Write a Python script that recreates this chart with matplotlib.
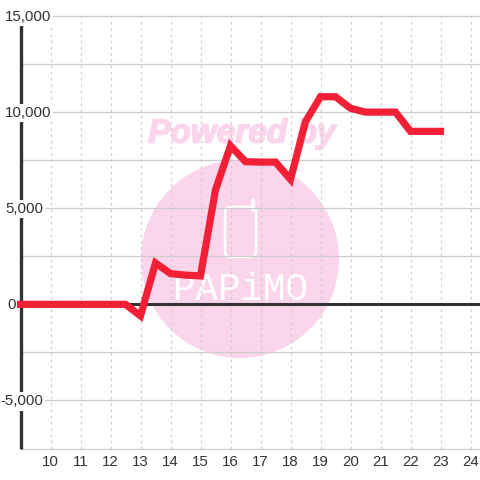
import matplotlib
matplotlib.use('Agg')
import matplotlib.pyplot as plt
import matplotlib.patheffects as pe
from matplotlib.lines import Line2D
from matplotlib.patches import Circle, FancyBboxPatch

x_values = [9, 9.5, 10, 10.5, 11, 11.5, 12, 12.5, 13, 13.5, 14, 14.5, 15, 15.5, 16, 16.5,
            17, 17.5, 18, 18.5, 19, 19.5, 20, 20.5, 21, 21.5, 22, 22.5, 23]
y_values = [0, 0, 0, 0, 0, 0, 0, 0, -600, 2150, 1600, 1520, 1480, 5950, 8250, 7420,
            7400, 7400, 6500, 9500, 10800, 10800, 10200, 10000, 10000, 10000, 9000, 9000, 9000]
x_ticks = list(range(10, 25))
y_ticks = [15000, 10000, 5000, 0, -5000]
y_minor = [12500, 7500, 2500, -2500, -7500]
y_labels = ['15,000', '10,000', '5,000', '0', '-5,000']

plt.rcParams['font.family'] = ['Liberation Sans', 'DejaVu Sans']
TEXT = '#333333'
GRID = '#cccccc'
PINK = '#fbd5ec'

W = 480
fig = plt.figure(figsize=(4.8, 4.8), dpi=100)
ax = fig.add_axes([20.5 / W, (W - 448.5) / W, (W - 20.5) / W, (448.5 - 16) / W])
ax.set_xlim(9, 9 + (W - 20.5) / 30)
ax.set_ylim(-7500, 15000)
ax.set_xticks([])
ax.set_yticks([])
for s in ax.spines.values():
    s.set_visible(False)
ax.patch.set_alpha(0)

def px(x, y):
    return x / W, 1 - y / W

# watermark
fig.patches.append(Circle(px(240, 259), 99 / W, transform=fig.transFigure, fc=PINK, ec='none', zorder=-5))
fig.patches.append(FancyBboxPatch(px(225, 257), 31 / W, 50 / W, boxstyle='round,pad=0,rounding_size=0.012',
                                  transform=fig.transFigure, fc='none', ec='white', lw=1.8, zorder=-4))
fig.add_artist(Line2D([253.5 / W, 253.5 / W], [1 - 200 / W, 1 - 210 / W], color='white', lw=2.6,
                      solid_capstyle='round', zorder=-4))
fig.text(*px(242, 134), 'Powered by', color=PINK, fontsize=24, fontweight='bold', fontstyle='italic',
         ha='center', va='center', zorder=-4,
         path_effects=[pe.withStroke(linewidth=1.2, foreground=PINK)])
fig.text(*px(240, 290), 'PAPiMO', color='white', fontsize=27, family='Liberation Mono',
         ha='center', va='center', zorder=-4)

# grid
for x in x_ticks:
    ax.axvline(x, color=GRID, lw=0.9, ls=(0, (2, 3)), zorder=1)
for y in y_ticks + y_minor:
    ax.axhline(y, color=GRID, lw=0.9, zorder=1, clip_on=False)

ax.axhline(0, color=TEXT, lw=2.2, zorder=2, solid_capstyle='butt')
ax.axvline(9, color=TEXT, lw=2.4, zorder=2, clip_on=False, solid_capstyle='butt')

ax.plot(x_values, y_values, color='#f22036', lw=5.2, zorder=3, solid_joinstyle='miter',
        solid_capstyle='projecting', clip_on=False)

right_edges = [51, 51, 43, 16, 43]
for y, label, right in zip(y_ticks, y_labels, right_edges):
    ax.annotate(label, (9, y), xytext=(right - 20.5, -1), textcoords='offset pixels', ha='right', va='center',
                color=TEXT, fontsize=10.8, zorder=2.5, annotation_clip=False,
                bbox=dict(fc='white', ec='none', pad=1.5))
for x in x_ticks:
    ax.annotate(str(x), (x, -7500), xytext=(0, -13), textcoords='offset pixels', ha='center', va='center',
                color=TEXT, fontsize=10.8, annotation_clip=False)

fig.savefig('out.png', dpi=100)
